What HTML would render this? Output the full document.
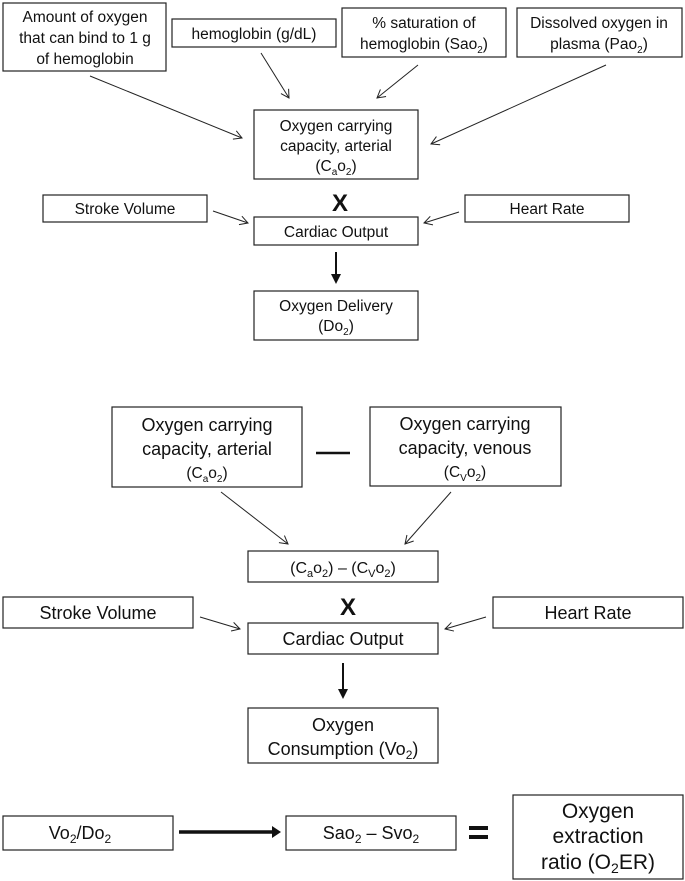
<!DOCTYPE html>
<html><head><meta charset="utf-8"><style>
html,body{margin:0;padding:0;background:#fff;}
svg{display:block;}
text{font-family:"Liberation Sans",sans-serif;fill:#111;text-anchor:middle;}
.s{font-size:15.5px;}
.m{font-size:18px;}
.l{font-size:21px;}
rect.b{fill:#fff;stroke:#222;stroke-width:1.2;}
line.t{stroke:#222;stroke-width:1;marker-end:url(#a);}
</style></head><body>
<svg width="685" height="881" viewBox="0 0 685 881" xmlns="http://www.w3.org/2000/svg">
<defs>
<marker id="a" markerWidth="12" markerHeight="12" refX="10" refY="6" orient="auto" markerUnits="userSpaceOnUse">
<polyline points="2,1.5 10,6 2,10.5" fill="none" stroke="#222" stroke-width="1"/>
</marker>
<marker id="b" markerWidth="12" markerHeight="12" refX="6" refY="6" orient="auto" markerUnits="userSpaceOnUse">
<polygon points="0,1 10,6 0,11" fill="#111"/>
</marker>
</defs>

<!-- TOP SECTION -->
<rect class="b" x="3" y="3" width="163" height="68"/>
<text class="s" x="85" y="22">Amount of oxygen</text>
<text class="s" x="85" y="43">that can bind to 1 g</text>
<text class="s" x="85" y="64">of hemoglobin</text>

<rect class="b" x="172" y="19" width="164" height="28"/>
<text class="s" x="254" y="39">hemoglobin (g/dL)</text>

<rect class="b" x="342" y="8" width="164" height="49"/>
<text class="s" x="424" y="28">% saturation of</text>
<text class="s" x="424" y="49">hemoglobin (Sao<tspan font-size="10" dy="4">2</tspan><tspan dy="-4">)</tspan></text>

<rect class="b" x="517" y="8" width="165" height="49"/>
<text class="s" x="599" y="28">Dissolved oxygen in</text>
<text class="s" x="599" y="49">plasma (Pao<tspan font-size="10" dy="4">2</tspan><tspan dy="-4">)</tspan></text>

<line class="t" x1="90" y1="76" x2="242" y2="138"/>
<line class="t" x1="261" y1="53" x2="289" y2="98"/>
<line class="t" x1="418" y1="65" x2="377" y2="98"/>
<line class="t" x1="606" y1="65" x2="431" y2="144"/>

<rect class="b" x="254" y="110" width="164" height="69"/>
<text class="s" x="336" y="131">Oxygen carrying</text>
<text class="s" x="336" y="151">capacity, arterial</text>
<text class="s" x="336" y="171">(C<tspan font-size="10" dy="4">a</tspan><tspan dy="-4">o</tspan><tspan font-size="10" dy="4">2</tspan><tspan dy="-4">)</tspan></text>

<text x="340" y="211" style="font-size:24px;font-weight:bold;">X</text>

<rect class="b" x="43" y="195" width="164" height="27"/>
<text class="s" x="125" y="214">Stroke Volume</text>
<rect class="b" x="465" y="195" width="164" height="27"/>
<text class="s" x="547" y="214">Heart Rate</text>
<line class="t" x1="213" y1="211" x2="248" y2="223"/>
<line class="t" x1="459" y1="212" x2="424" y2="223"/>

<rect class="b" x="254" y="217" width="164" height="28"/>
<text class="s" x="336" y="237">Cardiac Output</text>

<line x1="336" y1="252" x2="336" y2="280" stroke="#111" stroke-width="2" marker-end="url(#b)"/>

<rect class="b" x="254" y="291" width="164" height="49"/>
<text class="s" x="336" y="311">Oxygen Delivery</text>
<text class="s" x="336" y="331">(Do<tspan font-size="10" dy="4">2</tspan><tspan dy="-4">)</tspan></text>

<!-- MIDDLE SECTION -->
<rect class="b" x="112" y="407" width="190" height="80"/>
<text class="m" x="207" y="431">Oxygen carrying</text>
<text class="m" x="207" y="455">capacity, arterial</text>
<text class="s" x="207" y="478">(C<tspan font-size="10" dy="4">a</tspan><tspan dy="-4">o</tspan><tspan font-size="10" dy="4">2</tspan><tspan dy="-4">)</tspan></text>

<line x1="316" y1="453" x2="350" y2="453" stroke="#111" stroke-width="2.5"/>

<rect class="b" x="370" y="407" width="191" height="79"/>
<text class="m" x="465" y="430">Oxygen carrying</text>
<text class="m" x="465" y="454">capacity, venous</text>
<text class="s" x="465" y="477">(C<tspan font-size="10" dy="4">V</tspan><tspan dy="-4">o</tspan><tspan font-size="10" dy="4">2</tspan><tspan dy="-4">)</tspan></text>

<line class="t" x1="221" y1="492" x2="288" y2="544"/>
<line class="t" x1="451" y1="492" x2="405" y2="544"/>

<rect class="b" x="248" y="551" width="190" height="31"/>
<text class="m" x="343" y="573" style="font-size:16px">(C<tspan font-size="11" dy="4">a</tspan><tspan dy="-4">o</tspan><tspan font-size="11" dy="4">2</tspan><tspan dy="-4">)  – (C</tspan><tspan font-size="11" dy="4">V</tspan><tspan dy="-4">o</tspan><tspan font-size="11" dy="4">2</tspan><tspan dy="-4">)</tspan></text>

<text x="348" y="615" style="font-size:24px;font-weight:bold;">X</text>

<rect class="b" x="3" y="597" width="190" height="31"/>
<text class="m" x="98" y="619">Stroke Volume</text>
<rect class="b" x="493" y="597" width="190" height="31"/>
<text class="m" x="588" y="619">Heart Rate</text>
<line class="t" x1="200" y1="617" x2="240" y2="629"/>
<line class="t" x1="486" y1="617" x2="445" y2="629"/>

<rect class="b" x="248" y="623" width="190" height="31"/>
<text class="m" x="343" y="645">Cardiac Output</text>

<line x1="343" y1="663" x2="343" y2="695" stroke="#111" stroke-width="2" marker-end="url(#b)"/>

<rect class="b" x="248" y="708" width="190" height="55"/>
<text class="m" x="343" y="731">Oxygen</text>
<text class="m" x="343" y="755">Consumption (Vo<tspan font-size="12" dy="4">2</tspan><tspan dy="-4">)</tspan></text>

<!-- BOTTOM -->
<rect class="b" x="3" y="816" width="170" height="34"/>
<text class="m" x="80" y="839">Vo<tspan font-size="12" dy="4">2</tspan><tspan dy="-4">/Do</tspan><tspan font-size="12" dy="4">2</tspan></text>

<line x1="179" y1="832" x2="274" y2="832" stroke="#111" stroke-width="3.5"/>
<polygon points="272,826 281,832 272,838" fill="#111"/>

<rect class="b" x="286" y="816" width="170" height="34"/>
<text class="m" x="371" y="839">Sao<tspan font-size="12" dy="4">2</tspan><tspan dy="-4"> – Svo</tspan><tspan font-size="12" dy="4">2</tspan></text>

<rect x="469" y="826" width="19" height="4" fill="#111"/>
<rect x="469" y="835" width="19" height="4" fill="#111"/>

<rect class="b" x="513" y="795" width="170" height="84"/>
<text class="l" x="598" y="818">Oxygen</text>
<text class="l" x="598" y="843">extraction</text>
<text class="l" x="598" y="869">ratio (O<tspan font-size="14" dy="4">2</tspan><tspan dy="-4">ER)</tspan></text>
</svg>
</body></html>
